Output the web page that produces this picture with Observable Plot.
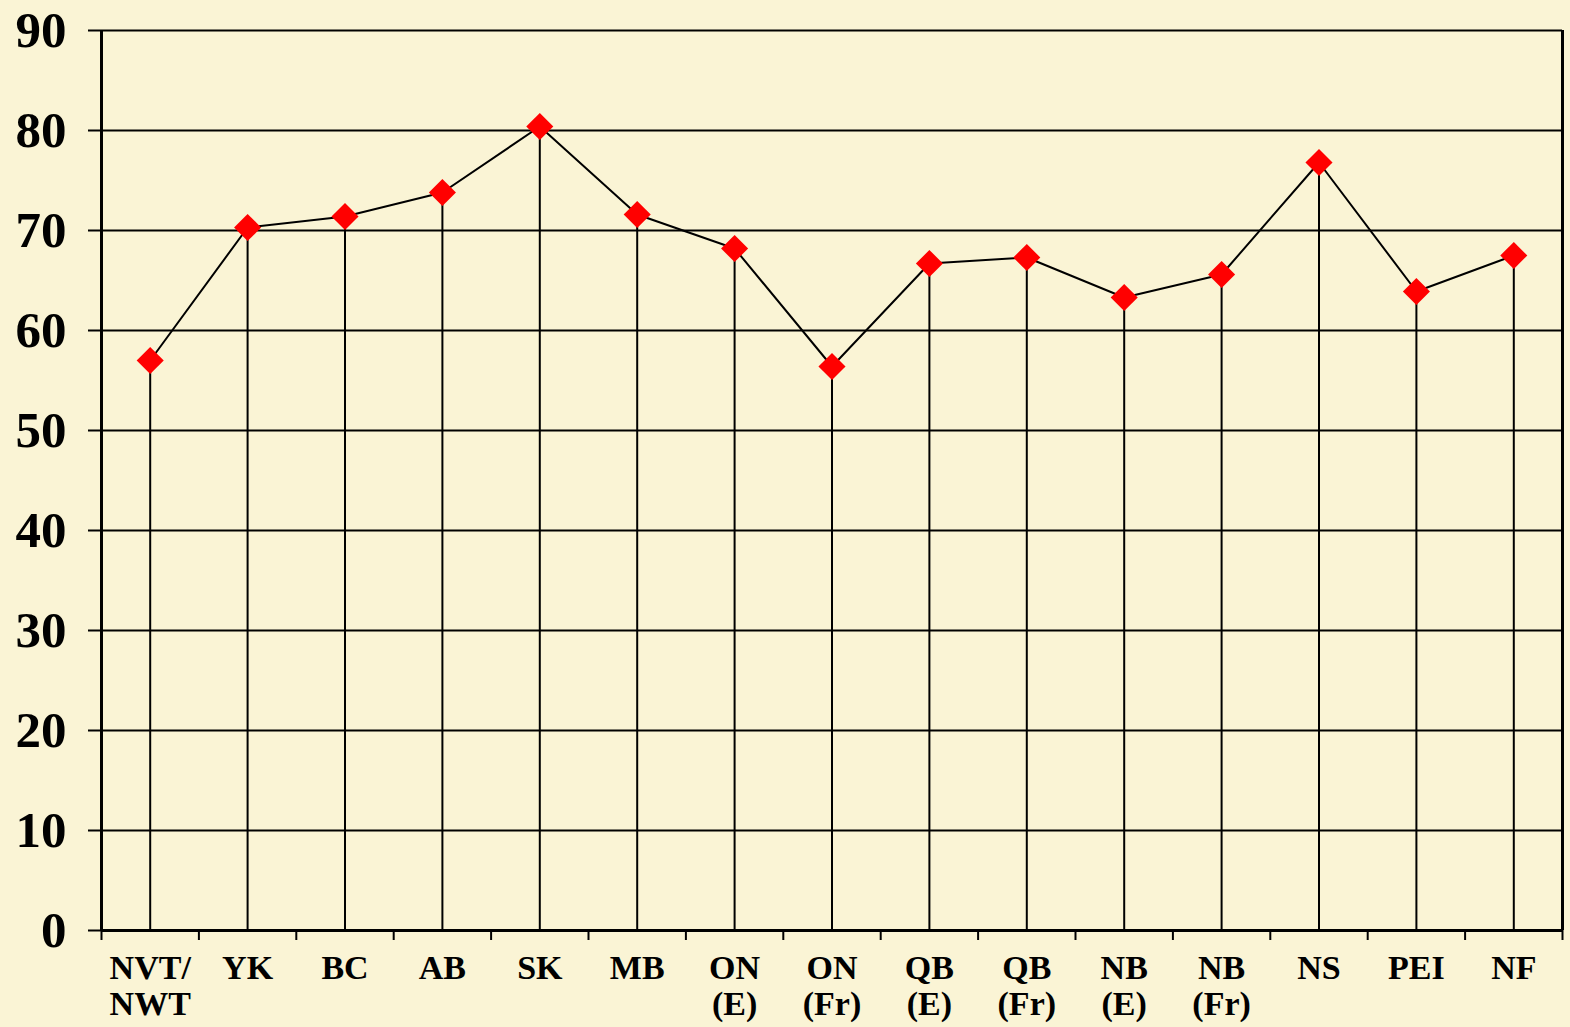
<!DOCTYPE html>
<html>
<head>
<meta charset="utf-8">
<script src="https://cdn.jsdelivr.net/npm/d3@7"></script>
<script src="https://cdn.jsdelivr.net/npm/@observablehq/plot@0.6"></script>
<style>
  html, body { margin: 0; padding: 0; background: #FAF4D5; }
  #chart { width: 1570px; height: 1027px; }
</style>
</head>
<body>
<div id="chart"></div>
<script>
const categories = ["NVT/\nNWT", "YK", "BC", "AB", "SK", "MB", "ON\n(E)", "ON\n(Fr)", "QB\n(E)", "QB\n(Fr)", "NB\n(E)", "NB\n(Fr)", "NS", "PEI", "NF"];
const values = [57.0, 70.3, 71.4, 73.8, 80.4, 71.6, 68.2, 56.4, 66.7, 67.3, 63.3, 65.6, 76.8, 63.9, 67.5];
const yTicks = [0, 10, 20, 30, 40, 50, 60, 70, 80, 90];

const data = categories.map((c, i) => ({i, c, v: values[i]}));
const idx = categories.map((c, i) => i);
const bounds = d3.range(categories.length + 1).map(i => i - 0.5);

const chart = Plot.plot({
  width: 1570,
  height: 1027,
  marginLeft: 101,
  marginRight: 8,
  marginTop: 30,
  marginBottom: 97,
  style: {background: "#FAF4D5", fontFamily: "'Liberation Serif', 'Times New Roman', serif", color: "#000", overflow: "visible"},
  x: {type: "linear", domain: [-0.5, categories.length - 0.5]},
  y: {domain: [0, 90]},
  marks: [
    Plot.ruleY(yTicks, {stroke: "#000", strokeWidth: 2}),
    Plot.ruleX(data, {x: "i", y1: 0, y2: "v", stroke: "#000", strokeWidth: 2}),
    Plot.line(data, {x: "i", y: "v", stroke: "#000", strokeWidth: 2}),
    Plot.dot(data, {x: "i", y: "v", symbol: "diamond2", r: 12.2, fill: "#FF0000", stroke: "none"}),
    Plot.ruleX(bounds, {y1: 0, y2: -1, stroke: "#000", strokeWidth: 2, clip: false}),
    Plot.ruleX([-0.5], {stroke: "#000", strokeWidth: 3}),
    Plot.ruleX([categories.length - 0.5], {stroke: "#000", strokeWidth: 3}),
    Plot.ruleY([0], {stroke: "#000", strokeWidth: 3}),
    Plot.axisY({ticks: yTicks, tickSize: 13, tickPadding: 22, fontSize: 51, fontWeight: "bold", label: null, strokeWidth: 2}),
    Plot.axisX({ticks: idx, tickSize: 0, tickPadding: 23, tickFormat: i => categories[i], fontSize: 34, fontWeight: "bold", lineHeight: 1.06, label: null})
  ]
});
document.getElementById("chart").appendChild(chart);
</script>
</body>
</html>
